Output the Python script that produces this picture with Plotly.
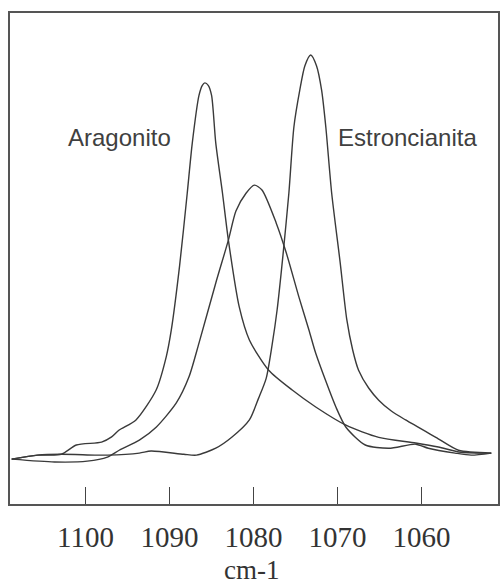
import plotly.graph_objects as go

# Wavenumber (cm-1) and relative intensity
arag_x = [1108.8, 1105.7, 1102.9, 1101.1, 1098.1, 1096.9, 1096.0, 1094.0, 1091.6, 1090.4,
          1089.8, 1088.8, 1087.9, 1087.3, 1086.5, 1086.1, 1085.8, 1085.4, 1085.0, 1084.5,
          1083.7, 1083.0, 1081.7, 1080.5, 1078.2, 1075.4, 1072.6, 1069.0, 1065.1, 1060.7,
          1058.0, 1055.3, 1051.7]
arag_y = [0.0, 1.0, 1.2, 3.5, 4.2, 5.5, 7.2, 9.7, 17.1, 25.3,
          31.9, 48.0, 65.8, 78.2, 90.0, 92.5, 93.1, 92.5, 90.0, 78.2,
          65.8, 54.2, 37.6, 29.5, 22.0, 17.1, 12.9, 8.4, 5.4, 4.0,
          3.0, 1.7, 1.5]

mix_x = [1108.8, 1103.7, 1099.8, 1097.4, 1096.0, 1093.6, 1091.6, 1089.2, 1087.7, 1086.5,
         1084.5, 1083.0, 1082.1, 1080.9, 1079.9, 1079.0, 1077.3, 1076.1, 1074.6, 1073.4,
         1072.6, 1070.2, 1069.0, 1066.7, 1063.9, 1060.7, 1059.2, 1056.0, 1054.1, 1051.7]
mix_y = [0.0, -0.7, -0.5, 0.5, 2.2, 4.7, 7.9, 13.9, 20.3, 28.7,
         43.6, 54.2, 61.4, 65.8, 67.8, 66.6, 58.4, 51.0, 40.1, 31.9,
         26.2, 12.9, 7.9, 3.5, 2.7, 3.7, 2.7, 1.5, 1.0, 1.5]

estr_x = [1108.8, 1105.7, 1102.9, 1098.9, 1097.4, 1093.6, 1092.2, 1088.3, 1086.8, 1084.5,
          1082.6, 1080.5, 1079.4, 1078.5, 1077.8, 1077.2, 1076.5, 1075.8, 1075.2, 1074.5,
          1073.9, 1073.2, 1072.5, 1071.9, 1071.4, 1070.7, 1069.7, 1068.9, 1068.2, 1067.5,
          1066.3, 1065.1, 1063.6, 1061.9, 1058.3, 1055.6, 1051.7]
estr_y = [0.0, 1.0, 1.2, 1.0, 1.0, 1.5, 2.0, 1.2, 1.0, 2.7,
          5.4, 9.7, 15.1, 20.0, 28.2, 36.9, 50.5, 65.8, 82.2, 91.3,
          97.3, 100.0, 97.3, 91.3, 82.2, 65.8, 48.8, 34.5, 27.0, 22.0,
          17.6, 14.6, 11.9, 9.7, 5.4, 2.2, 1.5]

tick_vals = [1100, 1090, 1080, 1070, 1060]
tick_text = ["1100", "1090", "1080", "1070", "1060"]
labels = ["Aragonito", "Estroncianita"]
x_title = "cm-1"

line_col = "#3a3a3a"
fig = go.Figure()
for xs, ys, nm in [(arag_x, arag_y, "Aragonito"), (mix_x, mix_y, "Mezcla"),
                   (estr_x, estr_y, "Estroncianita")]:
    fig.add_trace(go.Scatter(x=xs, y=ys, mode="lines", name=nm,
                             line=dict(color=line_col, width=1.4, shape="spline", smoothing=0.7),
                             showlegend=False))

fig.add_annotation(x=1096.0, y=79.7, text=labels[0], showarrow=False,
                   font=dict(family="Liberation Sans, Arial, sans-serif", size=24, color="#404040"))
fig.add_annotation(x=1061.7, y=79.7, text=labels[1], showarrow=False,
                   font=dict(family="Liberation Sans, Arial, sans-serif", size=24, color="#404040"))
# axis title placed just below the tick labels
fig.add_annotation(xref="paper", yref="paper", x=0.495, y=0, yshift=-66,
                   text=x_title, showarrow=False, yanchor="middle", borderpad=0,
                   font=dict(family="Liberation Serif, Times New Roman, serif", size=27, color="#333"))

fig.update_layout(
    width=501, height=587,
    margin=dict(l=10, r=1, t=13, b=83),
    paper_bgcolor="white", plot_bgcolor="white",
    xaxis=dict(range=[1109.0, 1050.9], tickvals=tick_vals, ticktext=tick_text,
               ticks="inside", ticklen=17, tickwidth=1.3, tickcolor="#444",
               showline=True, mirror=True, linecolor="#555", linewidth=1.5,
               showgrid=False, zeroline=False, ticklabelstandoff=6,
               tickfont=dict(family="Liberation Serif, Times New Roman, serif", size=29, color="#333")),
    yaxis=dict(range=[-11.1, 110.4], showticklabels=False, ticks="",
               showline=True, mirror=True, linecolor="#555", linewidth=1.5,
               showgrid=False, zeroline=False),
)

fig.write_html("out.html")
